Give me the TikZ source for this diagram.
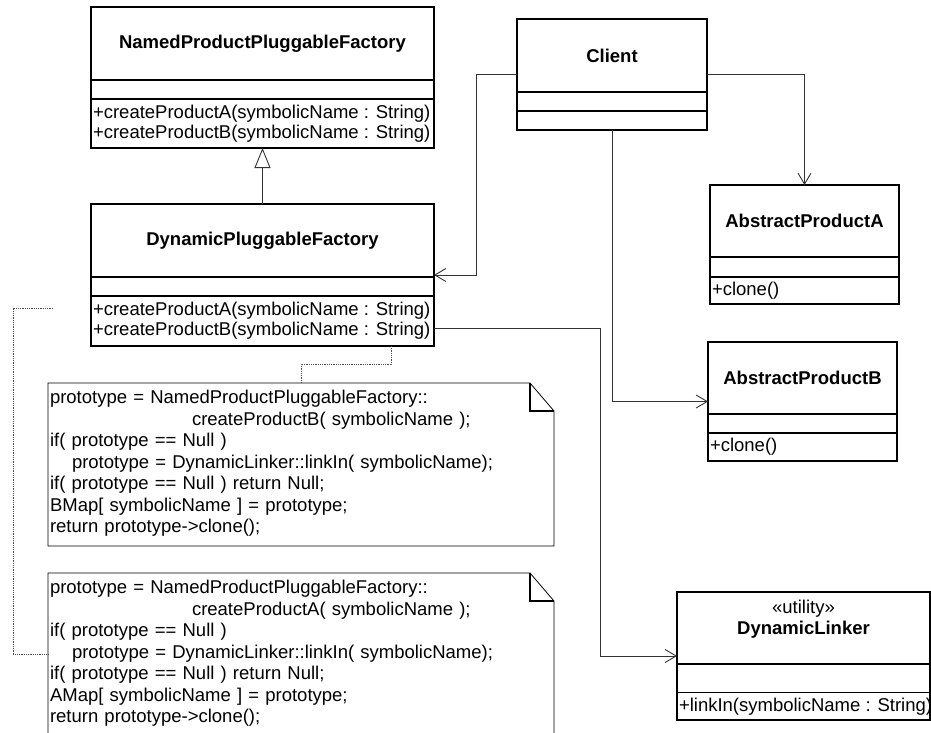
\documentclass[tikz,border=0pt]{standalone}
\usepackage{fontspec}
\setmainfont{Liberation Sans}
\usetikzlibrary{arrows.meta, positioning}
\tikzset{
  cls/.style={rectangle, draw=black, line width=1.4pt, inner sep=0pt, outer sep=0pt},
  ttl/.style={rectangle, inner sep=0pt, outer sep=0pt, align=center,
              font=\fontsize{18.5}{21}\selectfont\bfseries},
  ops/.style={rectangle, inner xsep=2pt, inner ysep=0pt, outer sep=0pt, align=left,
              anchor=north west, font=\fontsize{18.5}{20}\selectfont},
  note/.style={rectangle, inner xsep=2pt, inner ysep=7pt, outer sep=0pt, align=left,
               text width=502pt, text height=13.5pt, text depth=135.5pt,
               font=\fontsize{18.5}{21.5}\selectfont},
  noteline/.style={line width=0.8pt, draw=black},
  fold/.style={line width=1.4pt, draw=black},
  assoc/.style={-{Straight Barb[length=11pt, width=13pt]}, line width=0.9pt, draw=black!80},
  gen/.style={-{Triangle[open, length=20pt, width=16pt]}, line width=0.9pt, draw=black!80},
  anchorln/.style={densely dotted, line width=0.8pt, draw=black!70},
}
\begin{document}
\begin{tikzpicture}[x=1pt, y=-1pt]
  \useasboundingbox (0,0) rectangle (931,733);
  % factories
  \node[cls, minimum width=343pt, minimum height=141pt] (nppf) at (262.5,77.5) {};
  \node[ttl, minimum width=343pt, minimum height=73pt, below=0pt of nppf.north] (nppft) {NamedProductPluggableFactory};
  \node[cls, minimum width=343pt, minimum height=19pt, below=0pt of nppft] (nppfa) {};
  \node[ops, minimum height=49pt] (nppfo) at (nppfa.south west) {+createProductA(symbolicName : String)\\+createProductB(symbolicName : String)};

  \node[cls, minimum width=343pt, minimum height=142pt] (dpf) at (262.5,275) {};
  \node[ttl, minimum width=343pt, minimum height=73pt, below=0pt of dpf.north] (dpft) {DynamicPluggableFactory};
  \node[cls, minimum width=343pt, minimum height=19pt, below=0pt of dpft] (dpfa) {};
  \node[ops, minimum height=50pt] (dpfo) at (dpfa.south west) {+createProductA(symbolicName : String)\\+createProductB(symbolicName : String)};

  % client and products
  \node[cls, minimum width=190pt, minimum height=111pt] (cli) at (612,74.5) {};
  \node[ttl, minimum width=190pt, minimum height=73pt, below=0pt of cli.north] (clit) {Client};
  \node[cls, minimum width=190pt, minimum height=19pt, below=0pt of clit] (clia) {};

  \node[cls, minimum width=189pt, minimum height=119pt] (apa) at (804.5,244.5) {};
  \node[ttl, minimum width=189pt, minimum height=72pt, below=0pt of apa.north] (apat) {AbstractProductA};
  \node[cls, minimum width=189pt, minimum height=20pt, below=0pt of apat] (apaa) {};
  \node[ops, minimum height=27pt] (apao) at (apaa.south west) {+clone()};

  \node[cls, minimum width=189pt, minimum height=119pt] (apb) at (802.5,401.5) {};
  \node[ttl, minimum width=189pt, minimum height=72pt, below=0pt of apb.north] (apbt) {AbstractProductB};
  \node[cls, minimum width=189pt, minimum height=19pt, below=0pt of apbt] (apba) {};
  \node[ops, minimum height=28pt] (apbo) at (apba.south west) {+clone()};

  \node[cls, minimum width=253pt, minimum height=128pt] (dl) at (803.5,656) {};
  \node[ttl, minimum width=253pt, minimum height=72pt, below=0pt of dl.north] (dlt) {{\mdseries «utility»}\\DynamicLinker\\~};
  \node[cls, minimum width=253pt, minimum height=28.5pt, below=0pt of dlt] (dla) {};
  \node[ops, minimum height=27.5pt] (dlo) at (dla.south west) {+linkIn(symbolicName : String)};

  % notes
  \node[note, anchor=north west] (noteB) at (48,383) {prototype = NamedProductPluggableFactory::\\
    \hspace*{142pt}createProductB( symbolicName );\\
    if( prototype == Null )\\
    \hspace*{22pt}prototype = DynamicLinker::linkIn( symbolicName);\\
    if( prototype == Null ) return Null;\\
    BMap[ symbolicName ] = prototype;\\
    return prototype->clone();};
  \node[note, anchor=north west] (noteA) at (48,573) {prototype = NamedProductPluggableFactory::\\
    \hspace*{142pt}createProductA( symbolicName );\\
    if( prototype == Null )\\
    \hspace*{22pt}prototype = DynamicLinker::linkIn( symbolicName);\\
    if( prototype == Null ) return Null;\\
    AMap[ symbolicName ] = prototype;\\
    return prototype->clone();};
  \foreach \n in {noteA, noteB} {
    \draw[noteline] (\n.north west) -- ([xshift=-24pt]\n.north east) -- ([yshift=-28pt]\n.north east)
      -- (\n.south east) -- (\n.south west) -- cycle;
    \draw[fold] ([xshift=-24pt]\n.north east) |- ([yshift=-28pt]\n.north east);
  }

  % connectors
  \draw[gen] (dpf.north) -- (nppf.south);
  \draw[assoc] (cli.west) -- ++(-41,0) |- (dpf.east);
  \draw[assoc] (cli.east) -| (apa.north);
  \draw[assoc] (cli.south) |- (apb.west);
  \draw[assoc] ([yshift=-53pt]dpf.east) -- ++(166,0) |- (dl.west);
  \draw[anchorln] ([xshift=128.5pt]dpf.south) -- ++(0,18) -| (noteB.north);
  \coordinate (free) at (53,308);
  \draw[anchorln] (free) -- ++(-40,0) |- (noteA.west);
\end{tikzpicture}
\end{document}
